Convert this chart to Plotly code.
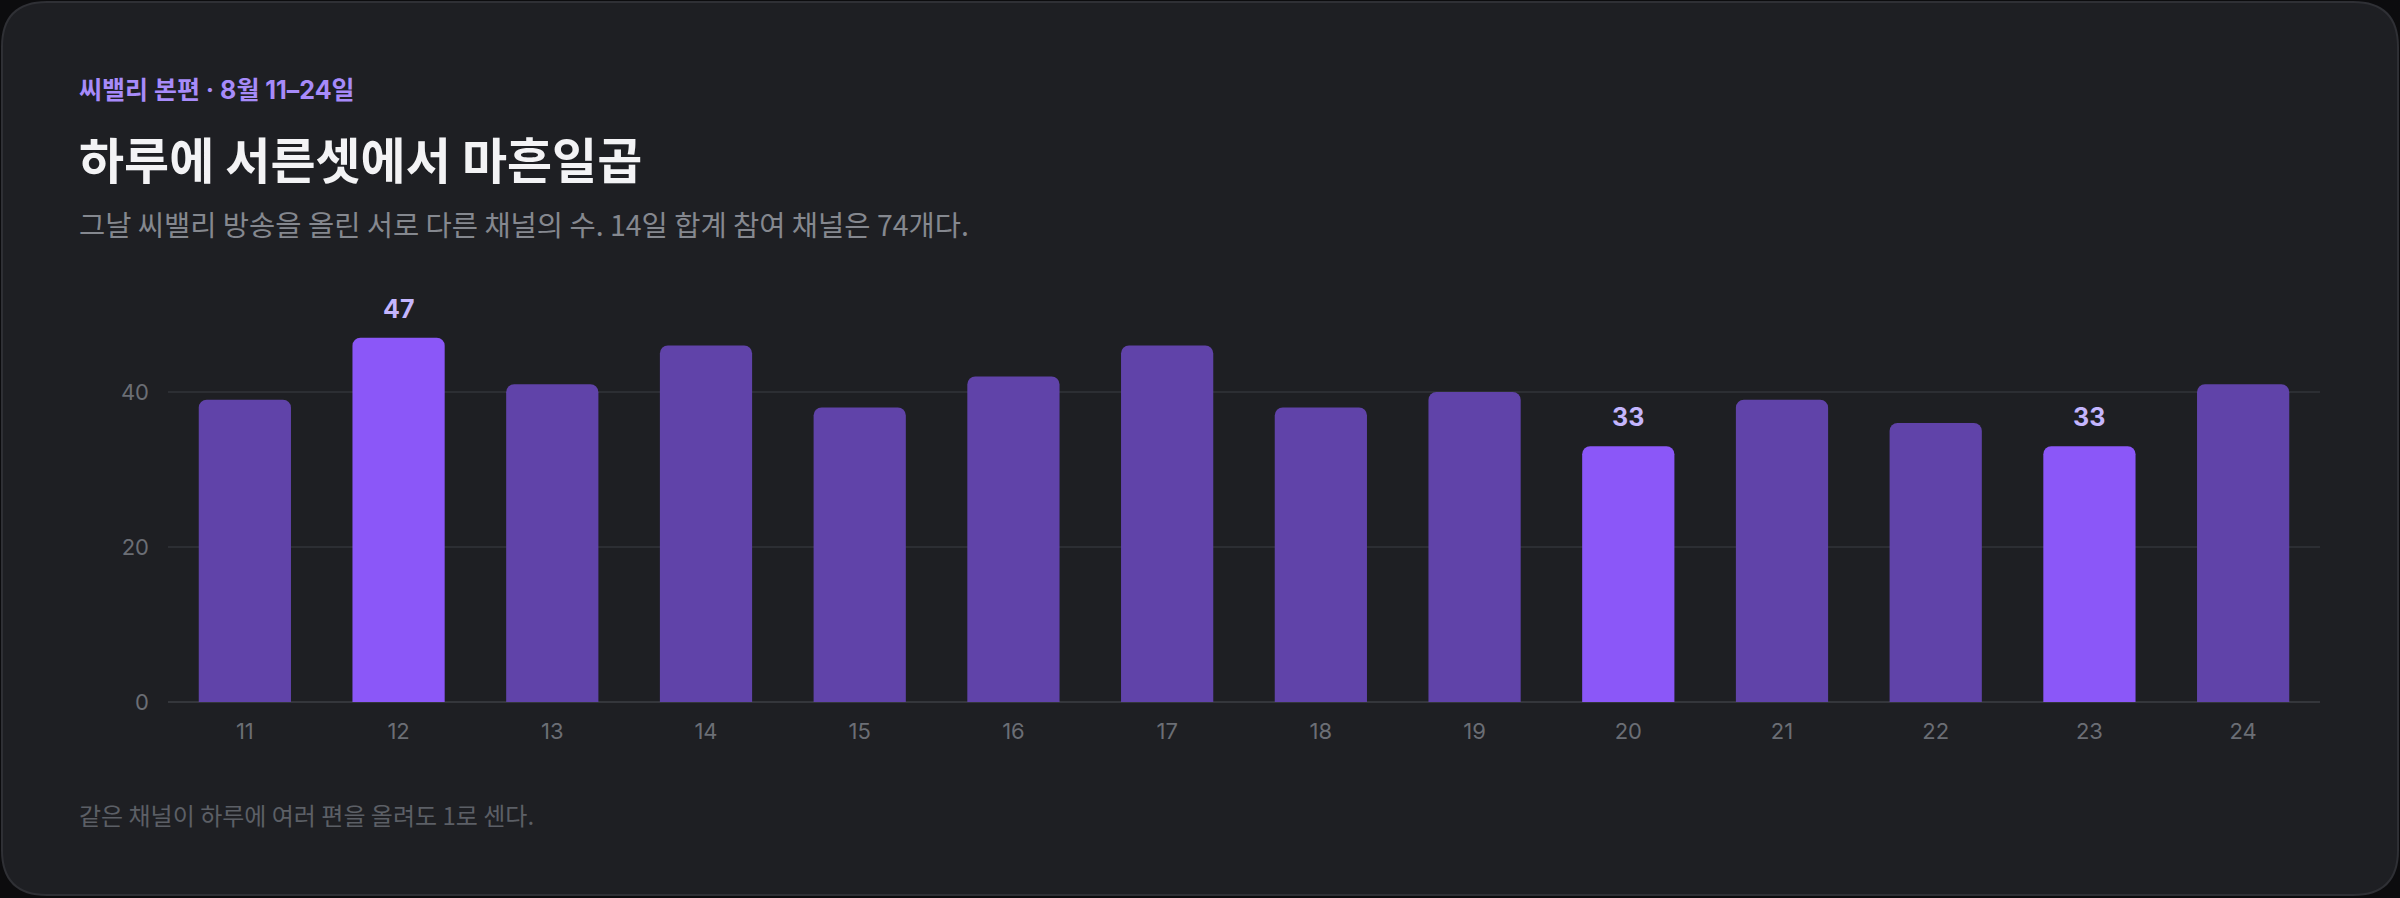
import plotly.graph_objects as go

# 씨밸리 본편 — daily count of distinct channels, Aug 11–24
days = ["11", "12", "13", "14", "15", "16", "17", "18", "19", "20", "21", "22", "23", "24"]
channels = [39, 47, 41, 46, 38, 42, 46, 38, 40, 33, 39, 36, 33, 41]
highlight_days = ["12", "20", "23"]  # max and min days

kicker = "씨밸리 본편 · 8월 11–24일"
title = "하루에 서른셋에서 마흔일곱"
subtitle = "그날 씨밸리 방송을 올린 서로 다른 채널의 수. 14일 합계 참여 채널은 74개다."
footnote = "같은 채널이 하루에 여러 편을 올려도 1로 센다."

W, H = 2400, 898
M_L, M_R, M_T, M_B = 168, 80, 299, 196
Y_MAX = 52

BG_OUTER = "#0c0c0e"
CARD = "#1e1f23"
CARD_LINE = "#2f3035"
BAR = "#6043a9"
BAR_HI = "#8b57f8"
FONT = "Inter, 'Noto Sans CJK KR', sans-serif"
KR_FONT = "'Noto Sans CJK KR', Inter, sans-serif"


def px(x):
    return (x - M_L) / (W - M_L - M_R)


def py(y):
    return (H - M_B - y) / (H - M_T - M_B)


def card_path(x0, y0, x1, y1, r):
    # rounded rectangle in paper coords, built from pixel corners
    pts = [
        ("M", [(x0 + r, y0)]),
        ("L", [(x1 - r, y0)]),
        ("Q", [(x1, y0), (x1, y0 + r)]),
        ("L", [(x1, y1 - r)]),
        ("Q", [(x1, y1), (x1 - r, y1)]),
        ("L", [(x0 + r, y1)]),
        ("Q", [(x0, y1), (x0, y1 - r)]),
        ("L", [(x0, y0 + r)]),
        ("Q", [(x0, y0), (x0 + r, y0)]),
    ]
    out = []
    for cmd, coords in pts:
        out.append(cmd + " ".join(f"{px(a):.5f},{py(b):.5f}" for a, b in coords))
    return " ".join(out) + " Z"


colors = [BAR_HI if d in highlight_days else BAR for d in days]

fig = go.Figure(
    go.Bar(
        x=days,
        y=channels,
        marker=dict(color=colors, line=dict(width=0)),
        width=0.6,
        hoverinfo="skip",
    )
)

fig.add_shape(
    type="path",
    path=card_path(2, 2, 2398, 895, 45),
    xref="paper",
    yref="paper",
    fillcolor=CARD,
    line=dict(color=CARD_LINE, width=2),
    layer="below",
)

for i, (d, v) in enumerate(zip(days, channels)):
    if d in highlight_days:
        fig.add_annotation(
            x=i, y=v, text=f"<b>{v}</b>", showarrow=False,
            yanchor="bottom", yshift=12,
            font=dict(family=FONT, size=25, color="#c4b5fd"),
        )

header = [
    (kicker, 90, 25, "#a78bfa", True, FONT),
    (title, 157, 49, "#f3f3f5", True, KR_FONT),
    (subtitle, 224, 28.5, "#85888f", False, KR_FONT),
    (footnote, 814, 24, "#5c5f66", False, KR_FONT),
]
for text, y, size, color, bold, fam in header:
    fig.add_annotation(
        x=px(77), y=py(y), xref="paper", yref="paper",
        text=f"<b>{text}</b>" if bold else text,
        showarrow=False, xanchor="left", yanchor="middle",
        font=dict(family=fam, size=size, color=color),
    )

fig.update_xaxes(
    type="category",
    range=[-0.5, len(days) - 0.5],
    showgrid=False,
    showline=False,
    ticks="",
    tickfont=dict(family=FONT, size=22, color="#6b6e75"),
    ticklabelstandoff=14,
)
fig.update_yaxes(
    range=[0, Y_MAX],
    tickvals=[0, 20, 40],
    showgrid=True,
    gridcolor="#2c2e33",
    gridwidth=1.5,
    zeroline=True,
    zerolinecolor="#34363b",
    zerolinewidth=2,
    showline=False,
    ticks="",
    tickfont=dict(family=FONT, size=22, color="#6b6e75"),
    ticklabelstandoff=18,
)

fig.update_layout(
    width=W,
    height=H,
    margin=dict(l=M_L, r=M_R, t=M_T, b=M_B, pad=0),
    paper_bgcolor=BG_OUTER,
    plot_bgcolor="rgba(0,0,0,0)",
    barcornerradius=8,
    showlegend=False,
    font=dict(family=FONT),
)

fig.write_html(
    "out.html",
    config={"displayModeBar": False},
    post_script="document.body.style.margin='0';document.body.style.background='%s';" % BG_OUTER,
)
